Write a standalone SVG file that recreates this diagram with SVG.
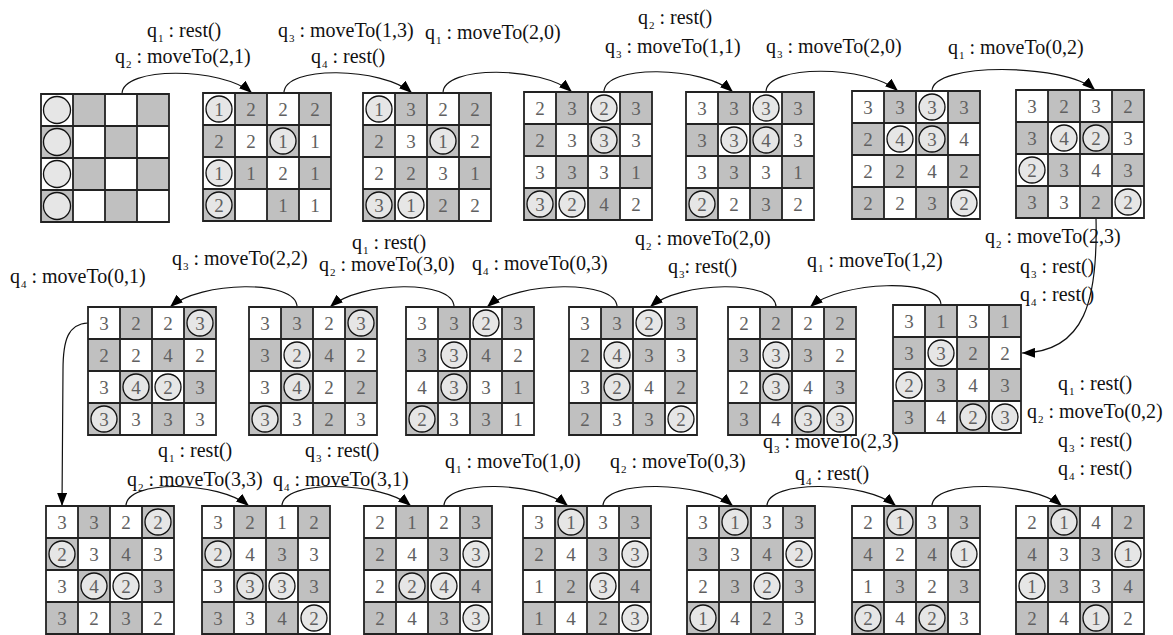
<svg xmlns="http://www.w3.org/2000/svg" xmlns:xlink="http://www.w3.org/1999/xlink" width="1173" height="635" viewBox="0 0 1173 635">
<style>
.lb{font-family:"Liberation Serif","Times New Roman",serif;font-size:20px;fill:#111}
.s{font-size:11px}
.d{font-family:"Liberation Serif","Times New Roman",serif;font-size:19px;fill:#606060;text-anchor:middle}
.c{fill:#e6e6e6;stroke:#111;stroke-width:1.3}
.cn{fill:none;stroke:#111;stroke-width:1.2}
</style>
<defs>
<marker id="ah" markerUnits="userSpaceOnUse" markerWidth="13" markerHeight="10" viewBox="0 0 13 10" refX="13" refY="5" orient="auto">
<path d="M0 0L13 5L0 10z" fill="#000"/>
</marker>
<g id="bd">
<rect width="128" height="128" fill="#fff"/>
<path d="M32 0h32v32h-32z M96 0h32v32h-32z M0 32h32v32h-32z M64 32h32v32h-32z M32 64h32v32h-32z M96 64h32v32h-32z M0 96h32v32h-32z M64 96h32v32h-32z" fill="#c0c0c0"/>
<path d="M0 0H128V128H0Z M32 0V128 M64 0V128 M96 0V128 M0 32H128 M0 64H128 M0 96H128" fill="none" stroke="#222" stroke-width="1.8"/>
</g>
</defs>
<rect width="1173" height="635" fill="#fff"/>

<g id="connectors" class="cn" marker-end="url(#ah)">
<path d="M122 94C122 66 222 67 252 93"/>
<path d="M284 93C284 65 382 67 412 93"/>
<path d="M443 93C443 65 542 66 572 92"/>
<path d="M604 92C604 64 703 66 733 92"/>
<path d="M766 92C766 64 868 65 898 91"/>
<path d="M932 91C932 62 1065 63 1095 90"/>
<path d="M1096 218C1098 300 1085 352 1022 353"/>
<path d="M941 305C941 277 840 281 810 307"/>
<path d="M776 307C776 279 680 281 650 307"/>
<path d="M617 307C617 279 517 281 487 307"/>
<path d="M454 307C454 279 360 281 330 307"/>
<path d="M297 307C297 279 200 281 170 307"/>
<path d="M88 323C68 324 63 340 63 370L62 506"/>
<path d="M126 506C126 479 219 481 249 506"/>
<path d="M282 506C282 479 381 481 411 506"/>
<path d="M444 506C444 479 538 481 568 506"/>
<path d="M603 506C603 479 703 481 733 506"/>
<path d="M767 506C767 479 866 481 896 506"/>
<path d="M932 506C932 479 1032 481 1062 506"/>
</g>

<g id="labels">
<text class="lb" x="147" y="37">q<tspan class="s" dx="1" dy="5">1</tspan><tspan dy="-5"> : rest()</tspan></text>
<text class="lb" x="115" y="63">q<tspan class="s" dx="1" dy="5">2</tspan><tspan dy="-5"> : moveTo(2,1)</tspan></text>
<text class="lb" x="278" y="37">q<tspan class="s" dx="1" dy="5">3</tspan><tspan dy="-5"> : moveTo(1,3)</tspan></text>
<text class="lb" x="311" y="63">q<tspan class="s" dx="1" dy="5">4</tspan><tspan dy="-5"> : rest()</tspan></text>
<text class="lb" x="425" y="39">q<tspan class="s" dx="1" dy="5">1</tspan><tspan dy="-5"> : moveTo(2,0)</tspan></text>
<text class="lb" x="638" y="24">q<tspan class="s" dx="1" dy="5">2</tspan><tspan dy="-5"> : rest()</tspan></text>
<text class="lb" x="605" y="53">q<tspan class="s" dx="1" dy="5">3</tspan><tspan dy="-5"> : moveTo(1,1)</tspan></text>
<text class="lb" x="766" y="53">q<tspan class="s" dx="1" dy="5">3</tspan><tspan dy="-5"> : moveTo(2,0)</tspan></text>
<text class="lb" x="948" y="54">q<tspan class="s" dx="1" dy="5">1</tspan><tspan dy="-5"> : moveTo(0,2)</tspan></text>

<text class="lb" x="352" y="249">q<tspan class="s" dx="1" dy="5">1</tspan><tspan dy="-5"> : rest()</tspan></text>
<text class="lb" x="319" y="271">q<tspan class="s" dx="1" dy="5">2</tspan><tspan dy="-5"> : moveTo(3,0)</tspan></text>
<text class="lb" x="172" y="265">q<tspan class="s" dx="1" dy="5">3</tspan><tspan dy="-5"> : moveTo(2,2)</tspan></text>
<text class="lb" x="10" y="283">q<tspan class="s" dx="1" dy="5">4</tspan><tspan dy="-5"> : moveTo(0,1)</tspan></text>
<text class="lb" x="472" y="270">q<tspan class="s" dx="1" dy="5">4</tspan><tspan dy="-5"> : moveTo(0,3)</tspan></text>
<text class="lb" x="635" y="245">q<tspan class="s" dx="1" dy="5">2</tspan><tspan dy="-5"> : moveTo(2,0)</tspan></text>
<text class="lb" x="668" y="273">q<tspan class="s" dx="1" dy="5">3</tspan><tspan dy="-5">: rest()</tspan></text>
<text class="lb" x="807" y="267">q<tspan class="s" dx="1" dy="5">1</tspan><tspan dy="-5"> : moveTo(1,2)</tspan></text>
<text class="lb" x="985" y="243">q<tspan class="s" dx="1" dy="5">2</tspan><tspan dy="-5"> : moveTo(2,3)</tspan></text>
<text class="lb" x="1020" y="273">q<tspan class="s" dx="1" dy="5">3</tspan><tspan dy="-5"> : rest()</tspan></text>
<text class="lb" x="1020" y="301">q<tspan class="s" dx="1" dy="5">4</tspan><tspan dy="-5"> : rest()</tspan></text>
<text class="lb" x="1058" y="390">q<tspan class="s" dx="1" dy="5">1</tspan><tspan dy="-5"> : rest()</tspan></text>
<text class="lb" x="1027" y="418">q<tspan class="s" dx="1" dy="5">2</tspan><tspan dy="-5"> : moveTo(0,2)</tspan></text>
<text class="lb" x="1058" y="447">q<tspan class="s" dx="1" dy="5">3</tspan><tspan dy="-5"> : rest()</tspan></text>
<text class="lb" x="1058" y="475">q<tspan class="s" dx="1" dy="5">4</tspan><tspan dy="-5"> : rest()</tspan></text>

<text class="lb" x="158" y="457">q<tspan class="s" dx="1" dy="5">1</tspan><tspan dy="-5"> : rest()</tspan></text>
<text class="lb" x="127" y="486">q<tspan class="s" dx="1" dy="5">2</tspan><tspan dy="-5"> : moveTo(3,3)</tspan></text>
<text class="lb" x="305" y="457">q<tspan class="s" dx="1" dy="5">3</tspan><tspan dy="-5"> : rest()</tspan></text>
<text class="lb" x="273" y="486">q<tspan class="s" dx="1" dy="5">4</tspan><tspan dy="-5"> : moveTo(3,1)</tspan></text>
<text class="lb" x="445" y="468">q<tspan class="s" dx="1" dy="5">1</tspan><tspan dy="-5"> : moveTo(1,0)</tspan></text>
<text class="lb" x="610" y="468">q<tspan class="s" dx="1" dy="5">2</tspan><tspan dy="-5"> : moveTo(0,3)</tspan></text>
<text class="lb" x="763" y="448">q<tspan class="s" dx="1" dy="5">3</tspan><tspan dy="-5"> : moveTo(2,3)</tspan></text>
<text class="lb" x="795" y="480">q<tspan class="s" dx="1" dy="5">4</tspan><tspan dy="-5"> : rest()</tspan></text>
</g>

<g id="g0" transform="translate(41,94)"><use href="#bd"/>
<circle class="c" cx="16" cy="16" r="13.5"/><circle class="c" cx="16" cy="48" r="13.5"/><circle class="c" cx="16" cy="80" r="13.5"/><circle class="c" cx="16" cy="112" r="13.5"/>
</g>

<g id="g1" transform="translate(203,93)"><use href="#bd"/>
<circle class="c" cx="16" cy="16" r="13"/><circle class="c" cx="80" cy="48" r="13"/><circle class="c" cx="16" cy="80" r="13"/><circle class="c" cx="16" cy="112" r="13"/>
<text class="d" x="16 48 80 112" y="23">1222</text>
<text class="d" x="16 48 80 112" y="55">2211</text>
<text class="d" x="16 48 80 112" y="87">1121</text>
<text class="d" x="16 80 112" y="119">211</text>
</g>

<g id="g2" transform="translate(363,93)"><use href="#bd"/>
<circle class="c" cx="16" cy="16" r="13"/><circle class="c" cx="80" cy="48" r="13"/><circle class="c" cx="16" cy="112" r="13"/><circle class="c" cx="48" cy="112" r="13"/>
<text class="d" x="16 48 80 112" y="23">1322</text>
<text class="d" x="16 48 80 112" y="55">2312</text>
<text class="d" x="16 48 80 112" y="87">2231</text>
<text class="d" x="16 48 80 112" y="119">3122</text>
</g>

<g id="g3" transform="translate(524,92)"><use href="#bd"/>
<circle class="c" cx="80" cy="16" r="13"/><circle class="c" cx="80" cy="48" r="13"/><circle class="c" cx="16" cy="112" r="13"/><circle class="c" cx="48" cy="112" r="13"/>
<text class="d" x="16 48 80 112" y="23">2323</text>
<text class="d" x="16 48 80 112" y="55">2333</text>
<text class="d" x="16 48 80 112" y="87">3331</text>
<text class="d" x="16 48 80 112" y="119">3242</text>
</g>

<g id="g4" transform="translate(686,92)"><use href="#bd"/>
<circle class="c" cx="80" cy="16" r="13"/><circle class="c" cx="48" cy="48" r="13"/><circle class="c" cx="80" cy="48" r="13"/><circle class="c" cx="16" cy="112" r="13"/>
<text class="d" x="16 48 80 112" y="23">3333</text>
<text class="d" x="16 48 80 112" y="55">3343</text>
<text class="d" x="16 48 80 112" y="87">3331</text>
<text class="d" x="16 48 80 112" y="119">2232</text>
</g>

<g id="g5" transform="translate(852,91)"><use href="#bd"/>
<circle class="c" cx="80" cy="16" r="13"/><circle class="c" cx="48" cy="48" r="13"/><circle class="c" cx="80" cy="48" r="13"/><circle class="c" cx="112" cy="112" r="13"/>
<text class="d" x="16 48 80 112" y="23">3333</text>
<text class="d" x="16 48 80 112" y="55">2434</text>
<text class="d" x="16 48 80 112" y="87">2242</text>
<text class="d" x="16 48 80 112" y="119">2232</text>
</g>

<g id="g6" transform="translate(1016,90)"><use href="#bd"/>
<circle class="c" cx="48" cy="48" r="13"/><circle class="c" cx="80" cy="48" r="13"/><circle class="c" cx="16" cy="80" r="13"/><circle class="c" cx="112" cy="112" r="13"/>
<text class="d" x="16 48 80 112" y="23">3232</text>
<text class="d" x="16 48 80 112" y="55">3423</text>
<text class="d" x="16 48 80 112" y="87">2343</text>
<text class="d" x="16 48 80 112" y="119">3322</text>
</g>

<g id="gA" transform="translate(88,307)"><use href="#bd"/>
<circle class="c" cx="112" cy="16" r="13"/><circle class="c" cx="48" cy="80" r="13"/><circle class="c" cx="80" cy="80" r="13"/><circle class="c" cx="16" cy="112" r="13"/>
<text class="d" x="16 48 80 112" y="23">3223</text>
<text class="d" x="16 48 80 112" y="55">2242</text>
<text class="d" x="16 48 80 112" y="87">3423</text>
<text class="d" x="16 48 80 112" y="119">3333</text>
</g>

<g id="gB" transform="translate(249,307)"><use href="#bd"/>
<circle class="c" cx="112" cy="16" r="13"/><circle class="c" cx="48" cy="48" r="13"/><circle class="c" cx="48" cy="80" r="13"/><circle class="c" cx="16" cy="112" r="13"/>
<text class="d" x="16 48 80 112" y="23">3323</text>
<text class="d" x="16 48 80 112" y="55">3242</text>
<text class="d" x="16 48 80 112" y="87">3422</text>
<text class="d" x="16 48 80 112" y="119">3323</text>
</g>

<g id="gC" transform="translate(406,307)"><use href="#bd"/>
<circle class="c" cx="80" cy="16" r="13"/><circle class="c" cx="48" cy="48" r="13"/><circle class="c" cx="48" cy="80" r="13"/><circle class="c" cx="16" cy="112" r="13"/>
<text class="d" x="16 48 80 112" y="23">3323</text>
<text class="d" x="16 48 80 112" y="55">3342</text>
<text class="d" x="16 48 80 112" y="87">4331</text>
<text class="d" x="16 48 80 112" y="119">2331</text>
</g>

<g id="gD" transform="translate(569,307)"><use href="#bd"/>
<circle class="c" cx="80" cy="16" r="13"/><circle class="c" cx="48" cy="48" r="13"/><circle class="c" cx="48" cy="80" r="13"/><circle class="c" cx="112" cy="112" r="13"/>
<text class="d" x="16 48 80 112" y="23">3323</text>
<text class="d" x="16 48 80 112" y="55">2433</text>
<text class="d" x="16 48 80 112" y="87">3242</text>
<text class="d" x="16 48 80 112" y="119">2332</text>
</g>

<g id="gE" transform="translate(728,307)"><use href="#bd"/>
<circle class="c" cx="48" cy="48" r="13"/><circle class="c" cx="48" cy="80" r="13"/><circle class="c" cx="80" cy="112" r="13"/><circle class="c" cx="112" cy="112" r="13"/>
<text class="d" x="16 48 80 112" y="23">2222</text>
<text class="d" x="16 48 80 112" y="55">3332</text>
<text class="d" x="16 48 80 112" y="87">2343</text>
<text class="d" x="16 48 80 112" y="119">3433</text>
</g>

<g id="gF" transform="translate(893,305)"><use href="#bd"/>
<circle class="c" cx="48" cy="48" r="13"/><circle class="c" cx="16" cy="80" r="13"/><circle class="c" cx="80" cy="112" r="13"/><circle class="c" cx="112" cy="112" r="13"/>
<text class="d" x="16 48 80 112" y="23">3131</text>
<text class="d" x="16 48 80 112" y="55">3322</text>
<text class="d" x="16 48 80 112" y="87">2343</text>
<text class="d" x="16 48 80 112" y="119">3423</text>
</g>

<g id="gG" transform="translate(46,506)"><use href="#bd"/>
<circle class="c" cx="112" cy="16" r="13"/><circle class="c" cx="16" cy="48" r="13"/><circle class="c" cx="48" cy="80" r="13"/><circle class="c" cx="80" cy="80" r="13"/>
<text class="d" x="16 48 80 112" y="23">3322</text>
<text class="d" x="16 48 80 112" y="55">2343</text>
<text class="d" x="16 48 80 112" y="87">3423</text>
<text class="d" x="16 48 80 112" y="119">3232</text>
</g>

<g id="gH" transform="translate(202,506)"><use href="#bd"/>
<circle class="c" cx="16" cy="48" r="13"/><circle class="c" cx="48" cy="80" r="13"/><circle class="c" cx="80" cy="80" r="13"/><circle class="c" cx="112" cy="112" r="13"/>
<text class="d" x="16 48 80 112" y="23">3212</text>
<text class="d" x="16 48 80 112" y="55">2433</text>
<text class="d" x="16 48 80 112" y="87">3333</text>
<text class="d" x="16 48 80 112" y="119">3342</text>
</g>

<g id="gI" transform="translate(364,506)"><use href="#bd"/>
<circle class="c" cx="112" cy="48" r="13"/><circle class="c" cx="48" cy="80" r="13"/><circle class="c" cx="80" cy="80" r="13"/><circle class="c" cx="112" cy="112" r="13"/>
<text class="d" x="16 48 80 112" y="23">2123</text>
<text class="d" x="16 48 80 112" y="55">2433</text>
<text class="d" x="16 48 80 112" y="87">2244</text>
<text class="d" x="16 48 80 112" y="119">2433</text>
</g>

<g id="gJ" transform="translate(523,506)"><use href="#bd"/>
<circle class="c" cx="48" cy="16" r="13"/><circle class="c" cx="112" cy="48" r="13"/><circle class="c" cx="80" cy="80" r="13"/><circle class="c" cx="112" cy="112" r="13"/>
<text class="d" x="16 48 80 112" y="23">3133</text>
<text class="d" x="16 48 80 112" y="55">2433</text>
<text class="d" x="16 48 80 112" y="87">1234</text>
<text class="d" x="16 48 80 112" y="119">1423</text>
</g>

<g id="gK" transform="translate(687,506)"><use href="#bd"/>
<circle class="c" cx="48" cy="16" r="13"/><circle class="c" cx="112" cy="48" r="13"/><circle class="c" cx="80" cy="80" r="13"/><circle class="c" cx="16" cy="112" r="13"/>
<text class="d" x="16 48 80 112" y="23">3133</text>
<text class="d" x="16 48 80 112" y="55">3342</text>
<text class="d" x="16 48 80 112" y="87">2323</text>
<text class="d" x="16 48 80 112" y="119">1423</text>
</g>

<g id="gL" transform="translate(852,506)"><use href="#bd"/>
<circle class="c" cx="48" cy="16" r="13"/><circle class="c" cx="112" cy="48" r="13"/><circle class="c" cx="16" cy="112" r="13"/><circle class="c" cx="80" cy="112" r="13"/>
<text class="d" x="16 48 80 112" y="23">2133</text>
<text class="d" x="16 48 80 112" y="55">4241</text>
<text class="d" x="16 48 80 112" y="87">1323</text>
<text class="d" x="16 48 80 112" y="119">2423</text>
</g>

<g id="gM" transform="translate(1016,506)"><use href="#bd"/>
<circle class="c" cx="48" cy="16" r="13"/><circle class="c" cx="112" cy="48" r="13"/><circle class="c" cx="16" cy="80" r="13"/><circle class="c" cx="80" cy="112" r="13"/>
<text class="d" x="16 48 80 112" y="23">2142</text>
<text class="d" x="16 48 80 112" y="55">4331</text>
<text class="d" x="16 48 80 112" y="87">1334</text>
<text class="d" x="16 48 80 112" y="119">2412</text>
</g>
</svg>
